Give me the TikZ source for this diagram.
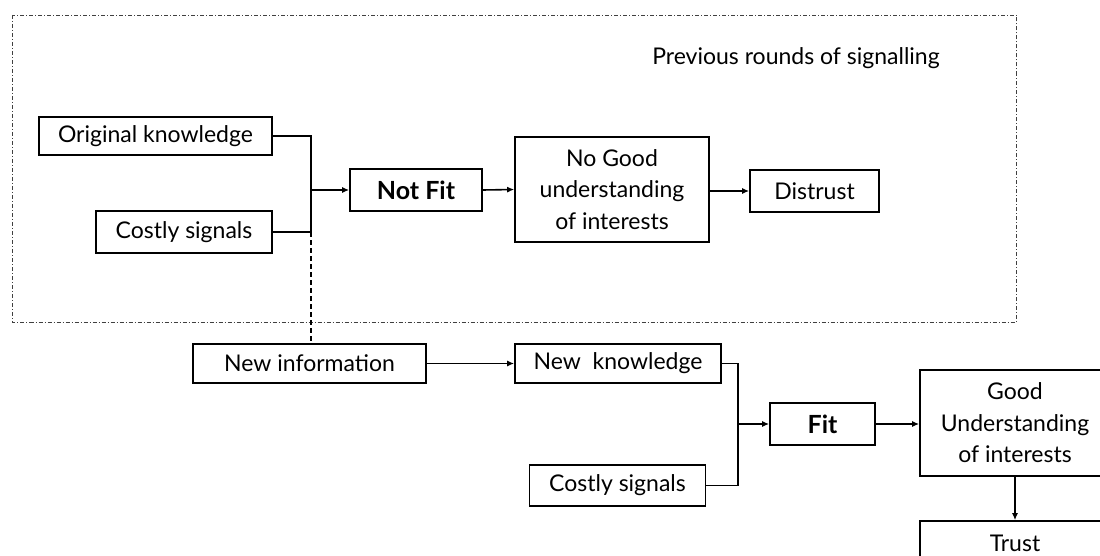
\documentclass[tikz,border=0pt]{standalone}
\usepackage{fontspec}
\setmainfont{Lato}
\usetikzlibrary{arrows.meta}
\begin{document}
\begin{tikzpicture}[x=1pt,y=-1pt,
  box/.style={draw=black,line width=1.6pt,align=center,inner sep=0pt,font=\fontsize{23}{31.5}\selectfont},
  boldbox/.style={box,font=\fontsize{25}{31.5}\selectfont\bfseries},
  conn/.style={line width=1.6pt},
  arr/.style={line width=1.6pt,-{Latex[length=7pt,width=6pt]}},
  region/.style={draw=black!75,line width=0.7pt,dash pattern=on 4pt off 2pt on 1pt off 2pt}]
\useasboundingbox (0,0) rectangle (1100,556);
\draw[region] (12.5,15) rectangle (1016,322);
\node[font=\fontsize{23}{27}\selectfont,anchor=center] (title) at (796,58) {Previous rounds of signalling};
\node[box,minimum width=233pt,minimum height=38pt] (orig) at (155.5,136) {Original knowledge};
\node[box,minimum width=175.5pt,minimum height=42pt] (cost1) at (184,232) {Costly signals};
\node[boldbox,minimum width=132pt,minimum height=42pt] (notfit) at (416,190) {Not Fit};
\node[box,minimum width=194pt,minimum height=105pt] (nogood) at (612,189.5) {No Good\\understanding\\of interests};
\node[box,minimum width=129pt,minimum height=42pt] (distrust) at (814.5,191) {Distrust};
\node[box,minimum width=233pt,minimum height=39pt] (newinfo) at (309.5,363.5) {New information};
\node[box,minimum width=206pt,minimum height=39pt] (newknow) at (618,363.5) {New~~knowledge};
\node[box,minimum width=176pt,minimum height=41pt] (cost2) at (617.5,485.5) {Costly signals};
\node[boldbox,minimum width=105pt,minimum height=42pt] (fit) at (822.5,424) {Fit};
\node[box,minimum width=190pt,minimum height=106pt] (good) at (1015,423) {Good\\Understanding\\of interests};
\node[box,minimum width=190pt,minimum height=44pt] (trust) at (1015,543) {Trust};
\coordinate (j1) at (311,190);
\coordinate (j2) at (738,424);
\draw[conn] (orig.east) -| (j1) |- (cost1.east);
\draw[arr] (j1) -- (notfit.west);
\draw[arr] (notfit.east) -- (nogood.west);
\draw[arr] (nogood.east |- distrust.west) -- (distrust.west);
\draw[line width=1.4pt,dash pattern=on 5pt off 3pt] (j1 |- cost1.east) -- (j1 |- newinfo.north);
\draw[arr] (newinfo.east) -- (newknow.west);
\draw[conn] (newknow.east) -| (j2) |- (cost2.east);
\draw[arr] (j2) -- (fit.west);
\draw[arr] (fit.east) -- (good.west |- fit.east);
\draw[arr] (good.south) -- (trust.north);
\end{tikzpicture}
\end{document}
